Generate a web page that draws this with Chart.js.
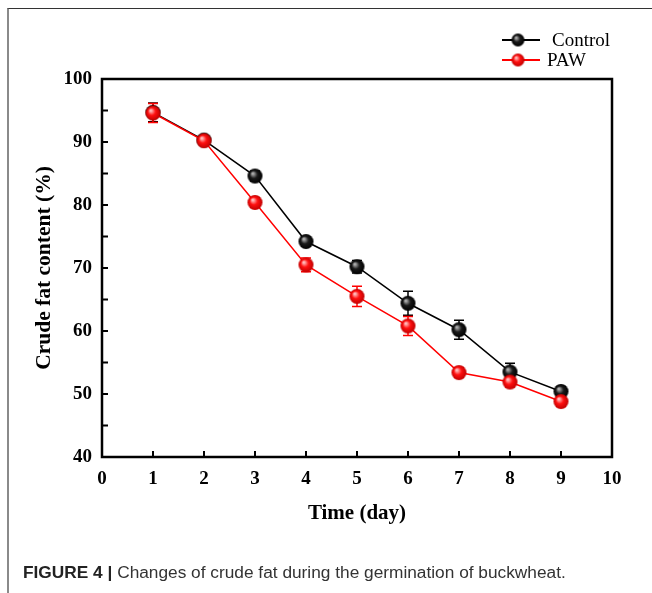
<!DOCTYPE html>
<html>
<head>
<meta charset="utf-8">
<script src="https://cdn.jsdelivr.net/npm/chart.js@4.4.0/dist/chart.umd.min.js"></script>
<style>
  body { margin: 0; background: #fff; }
  #wrap { position: relative; width: 652px; height: 593px; overflow: hidden; }
  #frame { position: absolute; left: 7px; top: 8px; right: -2px; bottom: -2px;
           border-left: 2px solid #8a8a8a; border-top: 1px solid #333; }
  canvas { position: absolute; left: 0; top: 0; }
  #caption { position: absolute; left: 23px; top: 562px; font: 17.3px "Liberation Sans", Arial, sans-serif;
             color: #333; white-space: nowrap; }
  #caption b { color: #222; }
</style>
</head>
<body>
<div id="wrap">
  <div id="frame"></div>
  <canvas id="chartFat" width="652" height="593"></canvas>
  <div id="caption"><b>FIGURE 4 |</b> Changes of crude fat during the germination of buckwheat.</div>
</div>
<script>
// datos
const days = [1, 2, 3, 4, 5, 6, 7, 8, 9];
const controlFat = [94.7, 90.3, 84.6, 74.2, 70.2, 64.4, 60.2, 53.5, 50.4];
const controlErr = [1.5, 0.6, 0.8, 0.7, 1.0, 1.9, 1.5, 1.4, 0.8];
const pawFat = [94.6, 90.2, 80.4, 70.5, 65.5, 60.8, 53.4, 51.9, 48.8];
const pawErr = [1.5, 0.6, 0.8, 1.1, 1.6, 1.5, 0.8, 0.8, 0.8];
const xTickLabels = ['0', '1', '2', '3', '4', '5', '6', '7', '8', '9', '10'];
const yTickLabels = ['40', '50', '60', '70', '80', '90', '100'];

const serif = '"Liberation Serif", "Times New Roman", serif';

// bolita sombreada para los marcadores
function makeBall(r, light, mid, dark) {
    const c = document.createElement('canvas');
    c.width = r * 2 + 2;
    c.height = r * 2 + 2;
    const g = c.getContext('2d');
    const cx = r + 1, cy = r + 1;
    const grad = g.createRadialGradient(cx - r * 0.3, cy - r * 0.35, r * 0.1, cx, cy, r);
    grad.addColorStop(0, light);
    grad.addColorStop(0.45, mid);
    grad.addColorStop(1, dark);
    g.fillStyle = grad;
    g.beginPath();
    g.arc(cx, cy, r, 0, Math.PI * 2);
    g.fill();
    return c;
}
const blackBall = makeBall(7.5, '#b0b0b0', '#1a1a1a', '#000');
const redBall = makeBall(7.5, '#ffc0c0', '#ff1010', '#c00000');
const blackBallSm = makeBall(6.5, '#b0b0b0', '#1a1a1a', '#000');
const redBallSm = makeBall(6.5, '#ffc0c0', '#ff1010', '#c00000');

const errors = [controlErr, pawErr];

const framePlugin = {
    id: 'framePlugin',
    beforeDatasetsDraw(chart) {
        const { ctx, scales: { x, y } } = chart;
        ctx.save();
        // barras de error (debajo de los marcadores)
        chart.data.datasets.forEach((ds, i) => {
            ctx.strokeStyle = ds.borderColor;
            ctx.lineWidth = 1.5;
            ds.data.forEach((p, j) => {
                const px = x.getPixelForValue(p.x);
                const top = y.getPixelForValue(p.y + errors[i][j]);
                const bot = y.getPixelForValue(p.y - errors[i][j]);
                ctx.beginPath();
                ctx.moveTo(px, top); ctx.lineTo(px, bot);
                ctx.moveTo(px - 5, top); ctx.lineTo(px + 5, top);
                ctx.moveTo(px - 5, bot); ctx.lineTo(px + 5, bot);
                ctx.stroke();
            });
        });
        ctx.restore();
    },
    afterDraw(chart) {
        const { ctx, chartArea: a, scales: { x, y } } = chart;
        ctx.save();
        ctx.strokeStyle = '#000';
        ctx.lineWidth = 2.5;
        ctx.strokeRect(a.left, a.top, a.right - a.left, a.bottom - a.top);
        // ticks hacia adentro
        ctx.lineWidth = 2;
        ctx.beginPath();
        x.ticks.forEach(t => {
            const px = x.getPixelForValue(t.value);
            ctx.moveTo(px, a.bottom); ctx.lineTo(px, a.bottom - 6);
        });
        y.ticks.forEach(t => {
            const py = y.getPixelForValue(t.value);
            ctx.moveTo(a.left, py); ctx.lineTo(a.left + 6, py);
        });
        ctx.stroke();

        // leyenda
        const items = [
            { label: 'Control', color: '#000', ball: blackBallSm, y: 40, tx: 552 },
            { label: 'PAW', color: '#ff0000', ball: redBallSm, y: 60, tx: 547 }
        ];
        ctx.font = '19px ' + serif;
        ctx.textBaseline = 'alphabetic';
        items.forEach(it => {
            ctx.strokeStyle = it.color;
            ctx.lineWidth = 2;
            ctx.beginPath();
            ctx.moveTo(502, it.y); ctx.lineTo(540, it.y);
            ctx.stroke();
            ctx.drawImage(it.ball, 518 - it.ball.width / 2, it.y - it.ball.height / 2);
            ctx.fillStyle = '#000';
            ctx.fillText(it.label, it.tx, it.y + 6);
        });
        ctx.restore();
    }
};

new Chart(document.getElementById('chartFat'), {
    type: 'line',
    data: {
        datasets: [
            {
                label: 'Control',
                data: days.map((d, i) => ({ x: d, y: controlFat[i] })),
                borderColor: '#000000',
                borderWidth: 1.5,
                pointStyle: blackBall,
                order: 1
            },
            {
                label: 'PAW',
                data: days.map((d, i) => ({ x: d, y: pawFat[i] })),
                borderColor: '#ff0000',
                borderWidth: 1.5,
                pointStyle: redBall,
                order: 0
            }
        ]
    },
    options: {
        responsive: false,
        animation: false,
        devicePixelRatio: 1,
        layout: { padding: { left: 0, right: 40, top: 79, bottom: 56 } },
        plugins: { legend: { display: false }, tooltip: { enabled: false } },
        scales: {
            x: {
                type: 'linear',
                min: 0, max: 10,
                afterFit: s => { s.height = 80; },
                grid: { display: false, drawTicks: false },
                border: { display: false },
                ticks: {
                    stepSize: 1,
                    padding: 11,
                    color: '#000',
                    font: { family: serif, size: 19, weight: 'bold' },
                    callback: v => xTickLabels[v]
                },
                title: {
                    display: true,
                    text: 'Time (day)',
                    color: '#000',
                    font: { family: serif, size: 21, weight: 'bold' },
                    padding: { top: 0, bottom: 11 }
                }
            },
            y: {
                min: 40, max: 100,
                afterFit: s => { s.width = 102; },
                grid: { display: false, drawTicks: false },
                border: { display: false },
                ticks: {
                    stepSize: 5,
                    padding: 10,
                    color: '#000',
                    font: { family: serif, size: 19, weight: 'bold' },
                    callback: v => (v % 10 === 0 ? yTickLabels[(v - 40) / 10] : '')
                },
                title: {
                    display: true,
                    text: 'Crude fat content (%)',
                    color: '#000',
                    font: { family: serif, size: 21.5, weight: 'bold' },
                    padding: { top: 32, bottom: 0 }
                }
            }
        }
    },
    plugins: [framePlugin]
});
</script>
</body>
</html>
